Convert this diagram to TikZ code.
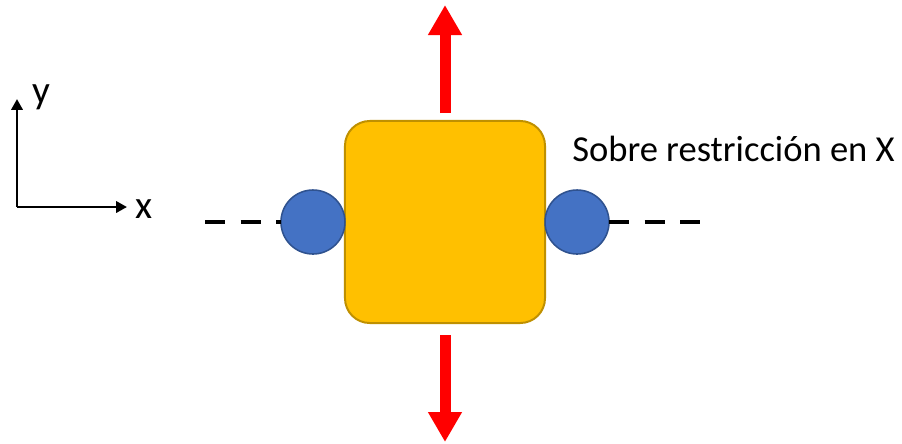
\documentclass[tikz,border=0pt]{standalone}
\usepackage{fontspec}
\setmainfont{Carlito}
\usepackage{xcolor}
\usetikzlibrary{arrows.meta, positioning}
\definecolor{blockGold}{RGB}{255,192,0}
\definecolor{blockEdge}{RGB}{191,144,0}
\definecolor{rollerBlue}{RGB}{68,114,196}
\definecolor{rollerEdge}{RGB}{47,82,143}
\definecolor{forceRed}{RGB}{255,0,0}
\tikzset{
    blockbox/.style={
        rectangle,
        draw=blockEdge,
        line width=1.4pt,
        rounded corners=0.62cm,
        fill=blockGold,
        minimum width=5cm,
        minimum height=5.05cm,
        outer sep=0pt
    },
    roller/.style={
        circle,
        draw=rollerEdge,
        line width=1.1pt,
        fill=rollerBlue,
        minimum size=1.6cm,
        inner sep=0pt,
        outer sep=0pt
    },
    guideline/.style={dash pattern=on 0.5cm off 0.39cm, line width=2.8pt, black},
    axisarrow/.style={-{Triangle[length=0.27cm, width=0.28cm]}, line width=1.8pt},
    forcearrow/.style={-{Triangle[length=0.75cm, width=0.8cm]}, line width=0.275cm, draw=forceRed},
    axislabel/.style={font=\fontsize{28}{32}\selectfont, inner sep=0pt}
}
\begin{document}
\begin{tikzpicture}[x=0.025cm, y=-0.025cm]
    \useasboundingbox (0,0) rectangle (902,443);

    % axes
    \coordinate (origin) at (17,207);
    \coordinate (ytip) at (17,99);
    \coordinate (xtip) at (127,207);
    \draw[axisarrow] (origin) -- (ytip);
    \draw[axisarrow] (origin) -- (xtip);
    \node[axislabel, anchor=base] (ylabel) at (41,103) {y};
    \node[axislabel, anchor=base] (xlabel) at (144,218) {x};

    % block with its two rollers
    \node[blockbox] (block) at (445,222) {};
    \node[roller, left=0pt of block] (leftroller) {};
    \node[roller, right=0pt of block] (rightroller) {};

    % guide lines
    \coordinate (leftend) at (205,222);
    \coordinate (rightend) at (700,222);
    \draw[guideline] (leftend) -- (leftroller.west);
    \draw[guideline] (rightroller.east) -- (rightend);

    % forces
    \coordinate (upstart) at (445,113);
    \coordinate (uptip) at (445,5);
    \coordinate (downstart) at (445,335);
    \coordinate (downtip) at (445,442);
    \draw[forcearrow] (upstart) -- (uptip);
    \draw[forcearrow] (downstart) -- (downtip);

    \node[anchor=base west, inner sep=0pt, font=\fontsize{26}{30}\selectfont] (caption) at (572,161) {Sobre restricción en X};
\end{tikzpicture}
\end{document}
